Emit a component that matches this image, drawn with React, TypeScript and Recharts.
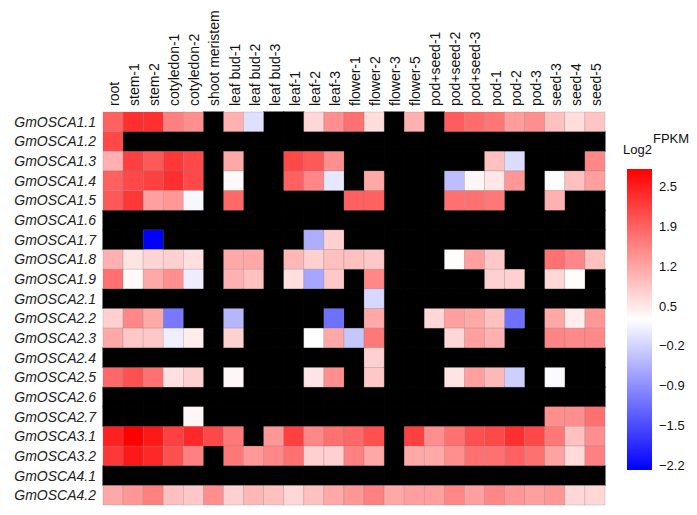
import React from "react";
import { ScatterChart, Scatter, XAxis, YAxis } from "recharts";

// samples (columns)
const samples = [
  "root", "stem-1", "stem-2", "cotyledon-1", "cotyledon-2", "shoot meristem",
  "leaf bud-1", "leaf bud-2", "leaf bud-3", "leaf-1", "leaf-2", "leaf-3",
  "flower-1", "flower-2", "flower-3", "flower-5", "pod+seed-1", "pod+seed-2",
  "pod+seed-3", "pod-1", "pod-2", "pod-3", "seed-3", "seed-4", "seed-5",
];

// genes (rows)
const genes = [
  "GmOSCA1.1", "GmOSCA1.2", "GmOSCA1.3", "GmOSCA1.4", "GmOSCA1.5", "GmOSCA1.6",
  "GmOSCA1.7", "GmOSCA1.8", "GmOSCA1.9", "GmOSCA2.1", "GmOSCA2.2", "GmOSCA2.3",
  "GmOSCA2.4", "GmOSCA2.5", "GmOSCA2.6", "GmOSCA2.7", "GmOSCA3.1", "GmOSCA3.2",
  "GmOSCA4.1", "GmOSCA4.2",
];

const _ = null;

// log2 FPKM, null = not expressed (black)
const GmOSCA1_1 = [1.87, 2.36, 2.36, 1.55, 1.39, _, 1.06, -0.06, _, _, 0.66, 1.39, 1.71, 0.6, _, 1.06, _, 1.9, 1.75, 1.65, 1.25, 1.4, 0.9, 0.6, 0.85];
const GmOSCA1_2 = [2.11, _, _, _, _, _, _, _, _, _, _, _, _, _, _, _, _, _, _, _, _, _, _, _, _];
const GmOSCA1_3 = [1.06, 2.19, 1.95, 2.28, 2.11, _, 1.14, _, _, 2.11, 1.95, 1.39, _, _, _, _, _, _, _, 0.9, -0.09, _, _, _, 1.47];
const GmOSCA1_4 = [1.87, 2.11, 2.19, 2.36, 2.11, _, 0.31, _, _, 1.87, 1.47, 0.02, _, 1.14, _, _, _, -0.4, 0.34, 0.5, 1.31, _, 0.29, 0.9, 1.23];
const GmOSCA1_5 = [1.95, 2.28, 1.23, 1.31, 0.18, _, 1.79, _, _, _, _, _, 1.87, 1.87, _, _, _, 1.71, 1.71, 1.63, _, _, 1.06, _, _];
const GmOSCA1_6 = [_, _, _, _, _, _, _, _, _, _, _, _, _, _, _, _, _, _, _, _, _, _, _, _, _];
const GmOSCA1_7 = [_, _, -2.32, _, _, _, _, _, _, _, -0.56, 0.74, _, _, _, _, _, _, _, _, _, _, _, _, _];
const GmOSCA1_8 = [1.06, 0.53, 0.7, 0.74, 0.58, _, 1.14, 1.14, _, 0.98, 0.74, 0.9, 0.9, 0.82, _, _, _, 0.29, 1.23, 0.82, _, _, 1.71, 1.47, 0.9];
const GmOSCA1_9 = [1.71, 0.31, 1.14, 1.39, 0.08, _, 1.06, 0.9, _, 0.58, -0.64, 0.82, _, 1.47, _, _, _, _, _, 0.74, 0.74, _, 0.66, 0.29, _];
const GmOSCA2_1 = [_, _, _, _, _, _, _, _, _, _, _, _, _, -0.14, _, _, _, _, _, _, _, _, _, _, _];
const GmOSCA2_2 = [0.74, 1.47, 1.14, -1.11, _, _, -0.48, _, _, _, _, -1.19, _, 1.14, _, _, 0.66, 1.23, 1.14, 0.9, -1.19, _, 1.14, 0.44, 1.31];
const GmOSCA2_3 = [1.14, 0.82, 0.82, 0.1, 0.44, _, 0.74, _, _, _, 0.26, 1.14, -0.32, 1.63, _, _, _, 0.66, 1.23, 1.06, _, _, 1.5, 1.45, 1.45];
const GmOSCA2_4 = [_, _, _, _, _, _, _, _, _, _, _, _, _, 0.74, _, _, _, _, _, _, _, _, _, _, _];
const GmOSCA2_5 = [1.79, 2.03, 1.71, 0.58, 0.74, _, 0.34, _, _, _, 0.53, 1.39, _, 0.82, _, _, _, 0.53, 1.23, 0.98, -0.24, _, 0.22, _, _];
const GmOSCA2_6 = [_, _, _, _, _, _, _, _, _, _, _, _, _, _, _, _, _, _, _, _, _, _, _, _, _];
const GmOSCA2_7 = [_, _, _, _, 0.34, _, _, _, _, _, _, _, _, _, _, _, _, _, _, _, _, _, 1.39, 1.39, 1.71];
const GmOSCA3_1 = [2.52, 2.84, 2.6, 2.19, 2.44, 2.11, 1.63, _, 1.31, 2.19, 1.47, 1.71, 1.79, 2.03, _, 2.19, 1.39, 1.71, 2.03, 2.11, 2.36, 2.11, 1.63, 0.9, 1.39];
const GmOSCA3_2 = [2.28, 2.6, 2.44, 2.03, 1.55, _, 1.63, 1.31, 1.47, 1.71, 0.74, 0.74, 1.55, 1.14, _, 1.14, 1.14, 1.39, 1.71, 1.71, 1.87, 1.71, 1.2, 0.62, 1.55];
const GmOSCA4_1 = [_, _, _, _, _, _, _, _, _, _, _, _, _, _, _, _, _, _, _, _, _, _, _, _, _];
const GmOSCA4_2 = [1.14, 1.31, 1.55, 0.9, 0.82, 1.39, 0.74, 0.98, 0.9, 0.66, 0.9, 1.14, 1.31, 1.55, 1.14, 1.23, 1.23, 1.47, 1.23, 1.47, 1.31, 1.23, 1.31, 0.66, 0.66];

const matrix = [
  GmOSCA1_1, GmOSCA1_2, GmOSCA1_3, GmOSCA1_4, GmOSCA1_5, GmOSCA1_6, GmOSCA1_7,
  GmOSCA1_8, GmOSCA1_9, GmOSCA2_1, GmOSCA2_2, GmOSCA2_3, GmOSCA2_4, GmOSCA2_5,
  GmOSCA2_6, GmOSCA2_7, GmOSCA3_1, GmOSCA3_2, GmOSCA4_1, GmOSCA4_2,
];

// colour bar labels
const legendTicks = ["2.5", "1.9", "1.2", "0.5", "\u22120.2", "\u22120.9", "\u22121.5", "\u22122.2"];

const vMin = -2.32;
const vMax = 2.84;
const vMid = (vMin + vMax) / 2;

const W = 697;
const H = 515;
const margin = { top: 0, right: 92, bottom: 10, left: 0 };
const yAxisW = 103;
const xAxisH = 112;
const cellW = (W - margin.left - margin.right - yAxisW) / samples.length;
const cellH = (H - margin.top - margin.bottom - xAxisH) / genes.length;

const font = "Arial, 'Liberation Sans', sans-serif";

// blue - white - red
const colorOf = (v: number | null) => {
  if (v === null) return "#000";
  if (v >= vMid) {
    const t = Math.min(1, (v - vMid) / (vMax - vMid));
    const c = Math.round(255 * (1 - t));
    return `rgb(255,${c},${c})`;
  }
  const t = Math.min(1, (vMid - v) / (vMid - vMin));
  const c = Math.round(255 * (1 - t));
  return `rgb(${c},${c},255)`;
};

// black (missing) cells first so coloured cells sit on top
const allCells = matrix.flatMap((row, r) =>
  row.map((v, c) => ({ col: c, row: r, value: v }))
);
const cells = [
  ...allCells.filter((d) => d.value === null),
  ...allCells.filter((d) => d.value !== null),
];

const Cell = (props: any) => {
  const { cx, cy, payload } = props;
  if (cx == null || cy == null) return null;
  const empty = payload.value === null;
  return (
    <rect
      x={cx - cellW / 2}
      y={cy - cellH / 2}
      width={cellW}
      height={cellH}
      fill={colorOf(payload.value)}
      stroke={empty ? "#000" : "rgba(120,120,120,0.4)"}
      strokeWidth={empty ? 1 : 0.6}
    />
  );
};

const SampleTick = ({ x, y, payload }: any) => (
  <text
    transform={`translate(${x + 6},${y}) rotate(-90)`}
    textAnchor="start"
    fontSize={14}
    fontFamily={font}
    fill="#111"
  >
    {samples[payload.value]}
  </text>
);

const GeneTick = ({ x, y, payload }: any) => (
  <text
    x={x}
    y={y + 5}
    textAnchor="end"
    fontSize={14}
    fontStyle="italic"
    fontFamily={font}
    fill="#222"
  >
    {genes[payload.value]}
  </text>
);

const Legend = () => {
  const x0 = 627;
  const top = 169;
  const bottom = 470;
  const firstY = 186;
  const lastY = 465;
  const step = (lastY - firstY) / (legendTicks.length - 1);
  return (
    <svg
      width={W}
      height={H}
      style={{ position: "absolute", left: 0, top: 0, pointerEvents: "none" }}
    >
      <defs>
        <linearGradient id="heatGrad" x1="0" y1="0" x2="0" y2="1">
          <stop offset="0%" stopColor="rgb(255,0,0)" />
          <stop offset="50%" stopColor="rgb(255,255,255)" />
          <stop offset="100%" stopColor="rgb(0,0,255)" />
        </linearGradient>
      </defs>
      <text x={623} y={154} fontSize={13} fontFamily={font} fill="#111">
        Log2
      </text>
      <text x={653} y={143} fontSize={13} fontFamily={font} fill="#111">
        FPKM
      </text>
      <rect x={x0} y={top} width={25} height={bottom - top} fill="url(#heatGrad)" />
      {legendTicks.map((t, i) => (
        <text
          key={t}
          x={659}
          y={firstY + i * step + 5}
          fontSize={13}
          fontFamily={font}
          fill="#111"
        >
          {t}
        </text>
      ))}
    </svg>
  );
};

export default function App() {
  return (
    <div
      style={{
        position: "absolute",
        left: 0,
        top: 0,
        width: W,
        height: H,
        background: "#fff",
      }}
    >
      <ScatterChart width={W} height={H} margin={margin}>
        <XAxis
          type="number"
          dataKey="col"
          orientation="top"
          domain={[-0.5, samples.length - 0.5]}
          ticks={samples.map((_s, i) => i)}
          interval={0}
          height={xAxisH}
          axisLine={false}
          tickLine={false}
          tickSize={0}
          tickMargin={6}
          tick={<SampleTick />}
        />
        <YAxis
          type="number"
          dataKey="row"
          reversed
          domain={[-0.5, genes.length - 0.5]}
          ticks={genes.map((_g, i) => i)}
          interval={0}
          width={yAxisW}
          axisLine={false}
          tickLine={false}
          tickSize={0}
          tickMargin={7}
          tick={<GeneTick />}
        />
        <Scatter data={cells} shape={<Cell />} isAnimationActive={false} />
      </ScatterChart>
      <Legend />
    </div>
  );
}
